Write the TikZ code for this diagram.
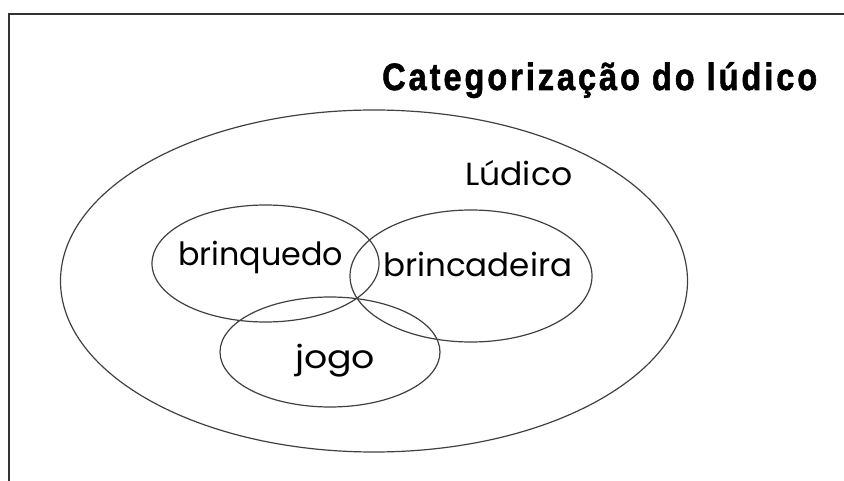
\documentclass[tikz,border=0pt]{standalone}
\usepackage{fontspec}
\usepackage{graphicx}
\usetikzlibrary{shapes.geometric}
\setmainfont{Poppins}
\newfontfamily\titlefont[LetterSpace=9,FakeBold=1.6]{Liberation Sans Bold}
\newcommand{\fitw}[2]{\resizebox{#1}{\height}{#2}}
\begin{document}
\begin{tikzpicture}[x=1pt,y=-1pt,
  frameline/.style={draw=black!80,line width=2pt},
  setell/.style={ellipse,draw=black!75,line width=1.2pt,inner sep=0pt},
  lbl/.style={anchor=base west,inner sep=0pt,font=\fontsize{32}{36}\selectfont}]
\useasboundingbox (0,0) rectangle (844,481);
\coordinate (fbl) at (9,481);
\coordinate (ftl) at (9,14);
\coordinate (ftr) at (844,14);
\draw[frameline] (fbl) -- (ftl) -- (ftr);
\node[setell,minimum width=627pt,minimum height=342pt] (ludico) at (374,281) {};
\node[setell,minimum width=227pt,minimum height=117pt] (brinq) at (265.5,263.5) {};
\node[setell,minimum width=242pt,minimum height=132pt] (brinc) at (471,276) {};
\node[setell,minimum width=220pt,minimum height=110pt] (jogo) at (330,352) {};
\node[anchor=base west,inner sep=0pt] (title) at (382,90)
  {\fitw{435pt}{\titlefont\fontsize{38}{40}\selectfont Categorização do lúdico}};
\node[lbl] (tludico) at (465,186) {\fitw{107pt}{Lúdico}};
\node[lbl] (tbrinq) at (178,266) {\fitw{165pt}{brinquedo}};
\node[lbl] (tbrinc) at (383,277) {\fitw{189pt}{brincadeira}};
\node[lbl] (tjogo) at (295,368) {\fitw{80pt}{jogo}};
\end{tikzpicture}
\end{document}
